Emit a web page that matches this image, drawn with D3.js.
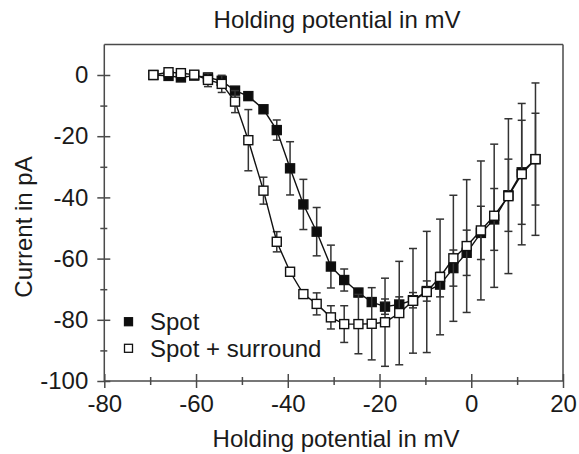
<!DOCTYPE html>
<html><head><meta charset="utf-8">
<script src="https://cdn.jsdelivr.net/npm/d3@7/dist/d3.min.js"></script>
<style>
html,body{margin:0;padding:0;background:#fff;}
text{font-family:"Liberation Sans",Arial,Helvetica,sans-serif;fill:#1a1a1a;}
</style></head>
<body><svg id="c" width="579" height="454"></svg>
<script>
// Holding potential (mV)
const potentials = [-69.3,-66.0,-63.3,-60.4,-57.4,-54.4,-51.5,-48.6,-45.3,-42.4,-39.5,-36.6,-33.7,-30.6,-27.7,-24.6,-21.7,-18.8,-15.7,-12.7,-9.7,-6.8,-3.9,-1.0,2.1,5.0,8.1,11.0,14.0];
// Spot (filled squares) current in pA and error
const spotMean = [0.0,-0.3,-0.8,-0.2,-0.8,-1.9,-5.1,-6.9,-11.2,-18.0,-30.5,-42.3,-51.2,-62.6,-67.0,-71.1,-74.2,-75.7,-75.0,-73.6,-70.6,-68.5,-63.1,-58.1,-51.6,-47.2,-39.3,-31.8,-27.5];
const spotErr  = [0,0,0,0,0,0,0,0.5,1.0,3.3,8.7,8.2,7.9,7.0,3.6,1.3,1.3,2.5,2.5,2.5,3.3,4.0,5.9,7.4,8.7,10.1,11.8,17.0,15.0];
// Spot + surround (open squares)
const surrMean = [0.0,0.9,0.6,0.1,-1.6,-2.9,-8.7,-21.3,-37.8,-54.5,-64.3,-71.6,-74.8,-79.2,-81.4,-81.4,-81.3,-80.8,-77.8,-73.8,-70.9,-66.0,-59.9,-55.9,-50.8,-46.0,-39.6,-32.4,-27.5];
const surrErr  = [0,0,0,0,2.2,2.8,3.6,10.0,4.4,3.3,1.0,1.0,3.6,3.8,6.0,9.7,11.8,14.4,16.9,17.1,19.8,18.9,20.6,21.7,22.7,23.4,25.3,23.1,24.9];
const xTicks = [-80,-60,-40,-20,0,20];
const xMinor = [-70,-50,-30,-10,10];
const yTicks = [0,-20,-40,-60,-80,-100];
const yMinor = [-10,-30,-50,-70,-90];
const seriesNames = ["Spot","Spot + surround"];
const xTitle = "Holding potential in mV";
const yTitle = "Current in pA";

const svg = d3.select("#c");
const L=104.3, R=563, T=44.4, B=381;
const x = d3.scaleLinear().domain([-80,20]).range([L,R]);
const y = d3.scaleLinear().domain([-100,10]).range([B,T]);
const axisCol = "#4a4a4a";
const fs = 24;
const fmt = d => String(d);

// frame (top & right)
svg.append("line").attr("x1",L).attr("x2",R).attr("y1",T).attr("y2",T).attr("stroke",axisCol).attr("stroke-width",1.5);
svg.append("line").attr("x1",R).attr("x2",R).attr("y1",T).attr("y2",B).attr("stroke",axisCol).attr("stroke-width",1.5);

// x axis
const gx = svg.append("g").attr("transform",`translate(0,${B})`)
  .call(d3.axisBottom(x).tickValues(xTicks).tickSize(7).tickPadding(7).tickFormat(fmt));
gx.selectAll(".tick line").attr("y1",-7).attr("y2",7);
const gxm = svg.append("g").attr("transform",`translate(0,${B})`)
  .call(d3.axisBottom(x).tickValues(xMinor).tickSize(4).tickFormat(""));
gxm.selectAll(".tick line").attr("y1",-4).attr("y2",4);
gxm.select(".domain").remove();
// y axis
const gy = svg.append("g").attr("transform",`translate(${L},0)`)
  .call(d3.axisLeft(y).tickValues(yTicks).tickSize(7).tickPadding(9).tickFormat(fmt));
gy.selectAll(".tick line").attr("x1",-7).attr("x2",6);
const gym = svg.append("g").attr("transform",`translate(${L},0)`)
  .call(d3.axisLeft(y).tickValues(yMinor).tickSize(4).tickFormat(""));
gym.selectAll(".tick line").attr("x1",-4).attr("x2",3);
gym.select(".domain").remove();
[gx,gxm,gy,gym].forEach(g=>{
  g.selectAll("path,line").attr("stroke",axisCol).attr("stroke-width",1.5);
  g.selectAll("text").attr("font-size",fs).attr("fill","#1a1a1a").style("font-family",'"Liberation Sans",Arial,sans-serif');
});
gx.select(".domain").attr("d",`M${L},0H${R}`);
gy.select(".domain").attr("d",`M0,${T}V${B}`);

// titles
svg.append("text").attr("x",337).attr("y",28).attr("text-anchor","middle").attr("font-size",fs).text(xTitle);
svg.append("text").attr("x",336).attr("y",447).attr("text-anchor","middle").attr("font-size",fs).text(xTitle);
svg.append("text").attr("transform","translate(32,227) rotate(-90)").attr("text-anchor","middle").attr("font-size",fs).text(yTitle);

function drawSeries(means, errs, filled){
  const pts = potentials.map((p,i)=>({p, m:means[i], e:errs[i]}));
  const g = svg.append("g");
  // error bars
  pts.filter(d=>d.e>0).forEach(d=>{
    const cx=x(d.p), y1=y(d.m+d.e), y2=y(d.m-d.e);
    g.append("line").attr("x1",cx).attr("x2",cx).attr("y1",y1).attr("y2",y2).attr("stroke","#333").attr("stroke-width",1.5);
    [y1,y2].forEach(yy=>g.append("line").attr("x1",cx-4).attr("x2",cx+4).attr("y1",yy).attr("y2",yy).attr("stroke","#333").attr("stroke-width",1.5));
  });
  g.append("path").datum(pts)
    .attr("d",d3.line().x(d=>x(d.p)).y(d=>y(d.m)))
    .attr("fill","none").attr("stroke","#111").attr("stroke-width",1.4);
  g.selectAll("rect").data(pts).join("rect")
    .attr("x",d=>x(d.p)-4.5).attr("y",d=>y(d.m)-4.5).attr("width",9).attr("height",9)
    .attr("fill",filled?"#0d0d0d":"#fff").attr("stroke","#111").attr("stroke-width",1.4);
}
drawSeries(spotMean, spotErr, true);
drawSeries(surrMean, surrErr, false);

// legend
const lg = svg.append("g");
[[true,321.7],[false,348.3]].forEach(([f,yy],i)=>{
  lg.append("rect").attr("x",124.5).attr("y",yy-4).attr("width",8).attr("height",8)
    .attr("fill",f?"#0d0d0d":"#fff").attr("stroke","#111").attr("stroke-width",1.3);
  lg.append("text").attr("x",150).attr("y",yy).attr("dy","0.36em").attr("font-size",fs).text(seriesNames[i]);
});
</script></body></html>
